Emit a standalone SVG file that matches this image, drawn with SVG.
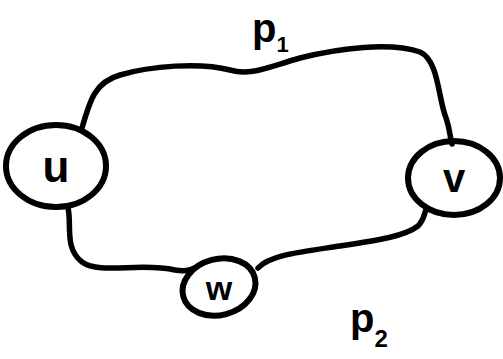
<svg xmlns="http://www.w3.org/2000/svg" width="503" height="359" viewBox="0 0 503 359">
<style>
.n{fill:none;stroke:#000;stroke-width:6;stroke-linecap:round;stroke-linejoin:round}
.c{fill:none;stroke:#000;stroke-width:5.5;stroke-linecap:round;stroke-linejoin:round}
.t{font-family:"Liberation Sans",sans-serif;font-weight:bold;fill:#000}
</style>
<rect width="503" height="359" fill="#fff"/>
<g id="connectors">
<path class="c" d="M82,128 C90,100 95,82 120,75 C150,66 200,62 230,70 C250,76 265,68 300,58 C340,48 390,42 420,52 C438,60 438,95 445,115 C450,128 450,138 452,144"/>
<path class="c" d="M68,208 C72,225 64,248 82,262 C100,275 140,262 175,270 C185,272 192,270 198,266"/>
<path class="c" d="M258,268 C270,255 300,252 340,246 C380,240 405,236 418,226 C424,220 424,214 426,210"/>
</g>
<g id="node-u">
<ellipse class="n" cx="56" cy="166" rx="50" ry="41"/>
<text class="t" x="56" y="182" font-size="44" text-anchor="middle">u</text>
</g>
<g id="node-v">
<ellipse class="n" cx="454" cy="178" rx="46" ry="37"/>
<text class="t" x="454" y="192" font-size="40" text-anchor="middle">v</text>
</g>
<g id="node-w">
<ellipse class="n" cx="219" cy="287" rx="37" ry="28" transform="rotate(-15 219 287)"/>
<text class="t" x="219" y="300" font-size="34" text-anchor="middle">w</text>
</g>
<g id="label-p1">
<text class="t" x="252" y="42" font-size="40">p<tspan font-size="22" dy="10">1</tspan></text>
</g>
<g id="label-p2">
<text class="t" x="350" y="332" font-size="40">p<tspan font-size="24" dy="15">2</tspan></text>
</g>
</svg>
